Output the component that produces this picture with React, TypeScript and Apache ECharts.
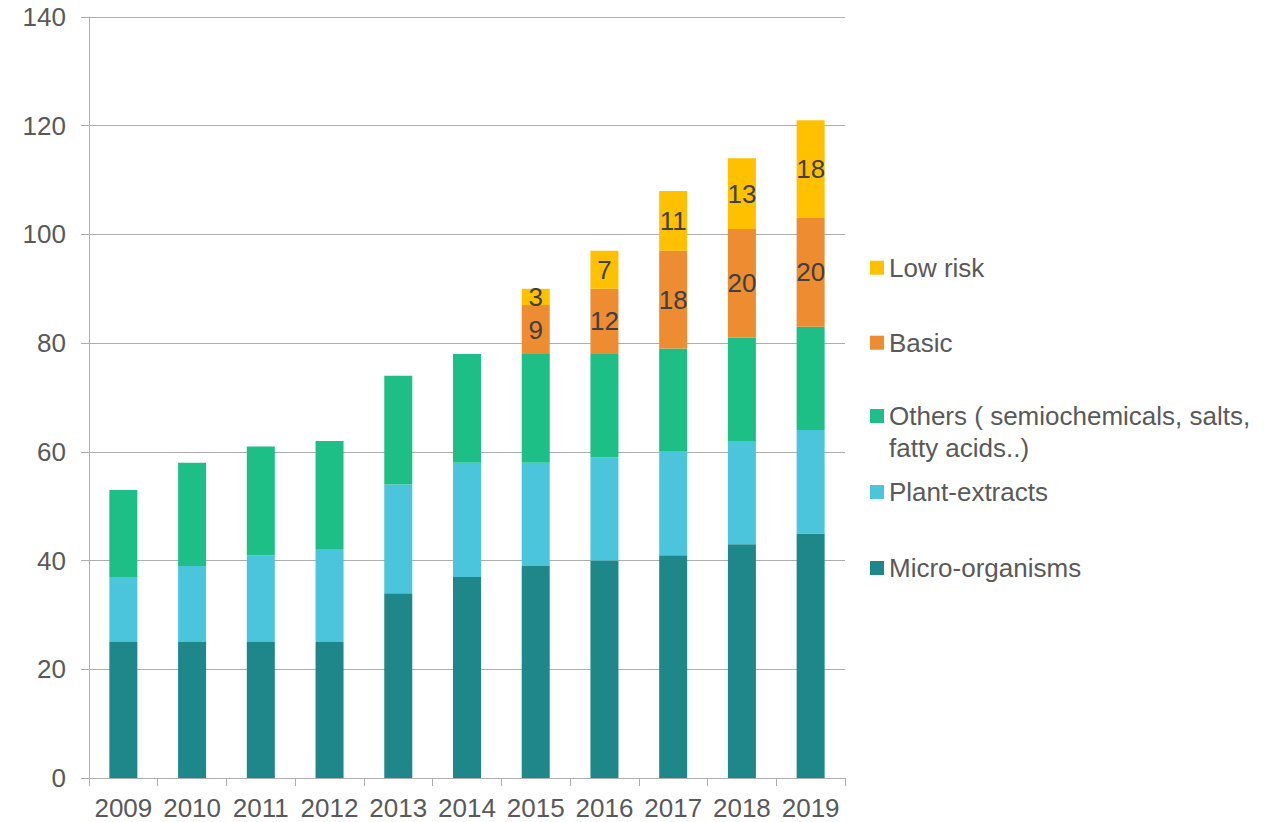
import React, { useEffect, useRef } from "react";
import * as echarts from "echarts";

const years = ["2009", "2010", "2011", "2012", "2013", "2014", "2015", "2016", "2017", "2018", "2019"];
const microOrganisms = [25, 25, 25, 25, 34, 37, 39, 40, 41, 43, 45];
const plantExtracts = [12, 14, 16, 17, 20, 21, 19, 19, 19, 19, 19];
const others = [16, 19, 20, 20, 20, 20, 20, 19, 19, 19, 19];
const basic = [null, null, null, null, null, null, 9, 12, 18, 20, 20];
const lowRisk = [null, null, null, null, null, null, 3, 7, 11, 13, 18];
const yTicks = { min: 0, max: 140, interval: 20 };

const names = {
  micro: "Micro-organisms",
  plant: "Plant-extracts",
  others: "Others ( semiochemicals, salts, fatty acids..)",
  basic: "Basic",
  low: "Low risk",
};

const colors = {
  micro: "#1E878A",
  plant: "#4BC5DC",
  others: "#1EBF87",
  basic: "#EE8C31",
  low: "#FFC000",
};

const FONT = "'Liberation Sans', Arial, sans-serif";
const AXIS_TEXT = "#595959";
const LABEL_TEXT = "#404040";
const LINE = "#ADADAD";

export default function App() {
  const ref = useRef<HTMLDivElement>(null);

  useEffect(() => {
    if (!ref.current) return;
    const chart = echarts.init(ref.current, null, { renderer: "svg" });

    const legendBase = (name: string, top: number, extra: any = {}) => ({
      data: [name],
      orient: "vertical",
      left: 870,
      top,
      padding: 0,
      itemWidth: 14,
      itemHeight: 14,
      icon: "rect",
      selectedMode: false,
      textStyle: {
        fontFamily: FONT,
        fontSize: 26,
        color: AXIS_TEXT,
        lineHeight: 30,
        ...extra,
      },
    });

    const labelCfg = {
      show: true,
      position: "inside",
      fontFamily: FONT,
      fontSize: 26,
      color: LABEL_TEXT,
    };

    const othersLegend: any = legendBase(names.others, 368, { lineHeight: 32 });
    othersLegend.formatter = () => " \nOthers ( semiochemicals, salts,\nfatty acids..)";

    chart.setOption({
      animation: false,
      textStyle: { fontFamily: FONT },
      grid: { left: 89, right: 436, top: 17, bottom: 44, containLabel: false },
      legend: [
        legendBase(names.low, 252.7),
        legendBase(names.basic, 327.7),
        othersLegend,
        legendBase(names.plant, 477),
        legendBase(names.micro, 553),
      ],
      xAxis: {
        type: "category",
        data: years,
        boundaryGap: true,
        axisLine: { show: true, lineStyle: { color: LINE, width: 1 } },
        axisTick: { show: true, length: 8, lineStyle: { color: LINE }, alignWithLabel: false },
        axisLabel: { fontFamily: FONT, fontSize: 26, color: AXIS_TEXT, margin: 17, interval: 0 },
      },
      yAxis: {
        type: "value",
        min: yTicks.min,
        max: yTicks.max,
        interval: yTicks.interval,
        axisLine: { show: true, lineStyle: { color: LINE, width: 1 } },
        axisTick: { show: true, length: 8, lineStyle: { color: LINE } },
        axisLabel: { fontFamily: FONT, fontSize: 26, color: AXIS_TEXT, margin: 23 },
        splitLine: { show: true, lineStyle: { color: LINE, width: 1 } },
      },
      series: [
        { name: names.micro, type: "bar", stack: "total", data: microOrganisms, barWidth: 28, itemStyle: { color: colors.micro } },
        { name: names.plant, type: "bar", stack: "total", data: plantExtracts, barWidth: 28, itemStyle: { color: colors.plant } },
        { name: names.others, type: "bar", stack: "total", data: others, barWidth: 28, itemStyle: { color: colors.others } },
        { name: names.basic, type: "bar", stack: "total", data: basic, barWidth: 28, itemStyle: { color: colors.basic }, label: labelCfg },
        { name: names.low, type: "bar", stack: "total", data: lowRisk, barWidth: 28, itemStyle: { color: colors.low }, label: labelCfg },
      ],
    });

    return () => chart.dispose();
  }, []);

  return (
    <div
      ref={ref}
      style={{ position: "fixed", left: 0, top: 0, width: 1281, height: 822, background: "#ffffff" }}
    />
  );
}
